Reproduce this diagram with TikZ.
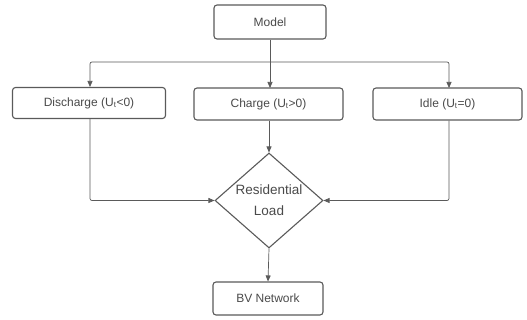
\documentclass[tikz,border=0pt]{standalone}
\usepackage{fontspec}
\setmainfont{Liberation Sans}
\usetikzlibrary{arrows.meta,shapes.geometric}
\definecolor{edge}{HTML}{5A5A5A}
\definecolor{ink}{HTML}{4A4A4A}
\begin{document}
\begin{tikzpicture}[x=1pt,y=-1pt,
  box/.style={draw=edge,line width=1.1pt,rounded corners=3pt,text=ink,
    minimum height=32pt,inner sep=0pt,font=\fontsize{12}{14}\selectfont},
  decide/.style={draw=edge,line width=1.1pt,diamond,aspect=1.12,text=ink,
    inner sep=0pt,minimum width=108pt,minimum height=95pt,align=center,
    font=\fontsize{13.5}{21}\selectfont},
  link/.style={draw=edge,line width=0.7pt,-{Triangle[length=6pt,width=5pt]}}]
\useasboundingbox (0,0) rectangle (527,320);
\fill[white] (0,0) rectangle (527,320);

\node[box,minimum width=112pt,minimum height=34pt] (model) at (270,22) {Model};
\node[box,minimum width=153pt,minimum height=31pt] (dis) at (89,103) {Discharge (U\textsubscript{t}<0)};
\node[box,minimum width=149pt] (chg) at (268.5,104) {Charge (U\textsubscript{t}>0)};
\node[box,minimum width=149pt] (idle) at (447.5,104) {Idle (U\textsubscript{t}=0)};
\node[decide] (load) at (269,200.5) {Residential\\Load};
\node[box,minimum width=110pt,minimum height=33pt] (bv) at (268,298.5) {BV Network};

\coordinate (split) at (270,62);
\draw[draw=edge,line width=0.7pt] (model.south) -- (split);
\draw[link] (split) -- (270,88);
\draw[link,rounded corners=2pt] (split) -| (90,87);
\draw[link,rounded corners=2pt] (split) -| (449,88);

\draw[link] (chg.south -| load.north) -- (load.north);
\draw[link,rounded corners=2pt] (dis.south -| 90,0) |- (load.west);
\draw[link,rounded corners=2pt] (idle.south -| 449,0) |- (load.east);
\draw[link] (load.south) -- (bv.north);
\end{tikzpicture}
\end{document}
